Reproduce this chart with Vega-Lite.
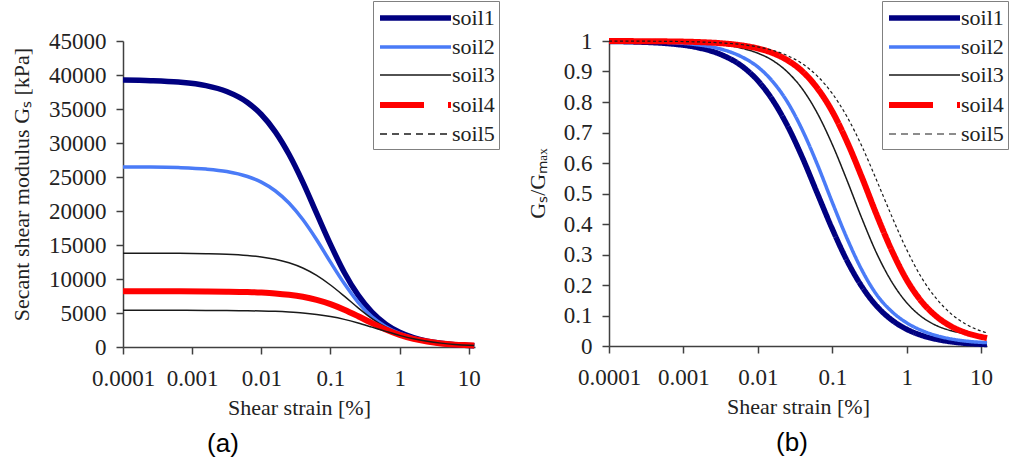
{
 "$schema": "https://vega.github.io/schema/vega-lite/v6.json",
 "background": "white",
 "padding": {"left": 9, "top": 0, "right": 0, "bottom": 0},
 "config": {
  "font": "Liberation Serif",
  "view": {"stroke": null},
  "axis": {"grid": false, "domainColor": "#404040", "tickColor": "#404040", "domainWidth": 1.5, "tickWidth": 1.5, "tickSize": 7,
   "labelFont": "Liberation Serif", "labelFontSize": 23, "labelColor": "#222", "labelOverlap": false, "labelFlush": false,
   "titleFont": "Liberation Serif", "titleFontSize": 22, "titleFontWeight": "normal", "titleColor": "#222"},
  "legend": {"labelFont": "Liberation Serif", "labelFontSize": 22, "labelColor": "#222"}
 },
 "datasets": {"d": [
  {"soil":"soil1","strain":0.0001,"r":0.9987,"G":39250},{"soil":"soil1","strain":0.000251,"r":0.9966,"G":39170},{"soil":"soil1","strain":0.000631,"r":0.9914,"G":38960},{"soil":"soil1","strain":0.001585,"r":0.978,"G":38440},{"soil":"soil1","strain":0.003162,"r":0.956,"G":37570},{"soil":"soil1","strain":0.00631,"r":0.915,"G":35960},{"soil":"soil1","strain":0.01,"r":0.870,"G":34190},{"soil":"soil1","strain":0.01585,"r":0.806,"G":31680},{"soil":"soil1","strain":0.02512,"r":0.721,"G":28340},{"soil":"soil1","strain":0.03981,"r":0.617,"G":24250},{"soil":"soil1","strain":0.0631,"r":0.5,"G":19650},{"soil":"soil1","strain":0.1,"r":0.384,"G":15090},{"soil":"soil1","strain":0.1585,"r":0.279,"G":10960},{"soil":"soil1","strain":0.2512,"r":0.194,"G":7620},{"soil":"soil1","strain":0.3981,"r":0.130,"G":5110},{"soil":"soil1","strain":0.631,"r":0.0853,"G":3350},{"soil":"soil1","strain":1,"r":0.0549,"G":2160},{"soil":"soil1","strain":1.585,"r":0.0349,"G":1370},{"soil":"soil1","strain":2.512,"r":0.022,"G":860},{"soil":"soil1","strain":3.981,"r":0.0138,"G":540},{"soil":"soil1","strain":6.31,"r":0.0086,"G":340},{"soil":"soil1","strain":10,"r":0.0058,"G":230},{"soil":"soil1","strain":12,"r":0.005,"G":200},
  {"soil":"soil2","strain":0.0001,"r":0.9994,"G":26480},{"soil":"soil2","strain":0.000251,"r":0.9983,"G":26460},{"soil":"soil2","strain":0.000631,"r":0.9953,"G":26380},{"soil":"soil2","strain":0.001585,"r":0.9874,"G":26170},{"soil":"soil2","strain":0.003162,"r":0.9738,"G":25810},{"soil":"soil2","strain":0.00631,"r":0.946,"G":25070},{"soil":"soil2","strain":0.01,"r":0.915,"G":24250},{"soil":"soil2","strain":0.01585,"r":0.867,"G":22980},{"soil":"soil2","strain":0.02512,"r":0.799,"G":21170},{"soil":"soil2","strain":0.03981,"r":0.707,"G":18740},{"soil":"soil2","strain":0.0631,"r":0.595,"G":15770},{"soil":"soil2","strain":0.1,"r":0.471,"G":12480},{"soil":"soil2","strain":0.1585,"r":0.352,"G":9330},{"soil":"soil2","strain":0.2512,"r":0.248,"G":6570},{"soil":"soil2","strain":0.3981,"r":0.167,"G":4430},{"soil":"soil2","strain":0.631,"r":0.113,"G":2990},{"soil":"soil2","strain":1,"r":0.076,"G":2010},{"soil":"soil2","strain":1.585,"r":0.051,"G":1350},{"soil":"soil2","strain":2.512,"r":0.034,"G":900},{"soil":"soil2","strain":3.981,"r":0.023,"G":610},{"soil":"soil2","strain":6.31,"r":0.016,"G":420},{"soil":"soil2","strain":10,"r":0.012,"G":320},{"soil":"soil2","strain":12,"r":0.011,"G":290},
  {"soil":"soil3","strain":0.0001,"r":0.9997,"G":13800},{"soil":"soil3","strain":0.000251,"r":0.9993,"G":13790},{"soil":"soil3","strain":0.000631,"r":0.998,"G":13770},{"soil":"soil3","strain":0.001585,"r":0.9945,"G":13720},{"soil":"soil3","strain":0.003162,"r":0.9883,"G":13640},{"soil":"soil3","strain":0.00631,"r":0.9754,"G":13460},{"soil":"soil3","strain":0.01,"r":0.960,"G":13250},{"soil":"soil3","strain":0.01585,"r":0.936,"G":12920},{"soil":"soil3","strain":0.02512,"r":0.898,"G":12390},{"soil":"soil3","strain":0.03981,"r":0.842,"G":11620},{"soil":"soil3","strain":0.0631,"r":0.763,"G":10530},{"soil":"soil3","strain":0.1,"r":0.661,"G":9120},{"soil":"soil3","strain":0.1585,"r":0.542,"G":7480},{"soil":"soil3","strain":0.2512,"r":0.417,"G":5750},{"soil":"soil3","strain":0.3981,"r":0.302,"G":4170},{"soil":"soil3","strain":0.631,"r":0.210,"G":2900},{"soil":"soil3","strain":1,"r":0.142,"G":1960},{"soil":"soil3","strain":1.585,"r":0.096,"G":1320},{"soil":"soil3","strain":2.512,"r":0.067,"G":920},{"soil":"soil3","strain":3.981,"r":0.050,"G":690},{"soil":"soil3","strain":6.31,"r":0.040,"G":550},{"soil":"soil3","strain":10,"r":0.033,"G":460},{"soil":"soil3","strain":12,"r":0.031,"G":430},
  {"soil":"soil4","strain":0.0001,"r":0.9998,"G":8200},{"soil":"soil4","strain":0.000251,"r":0.9995,"G":8200},{"soil":"soil4","strain":0.000631,"r":0.9987,"G":8190},{"soil":"soil4","strain":0.001585,"r":0.9966,"G":8170},{"soil":"soil4","strain":0.003162,"r":0.9928,"G":8140},{"soil":"soil4","strain":0.00631,"r":0.985,"G":8080},{"soil":"soil4","strain":0.01,"r":0.9756,"G":8000},{"soil":"soil4","strain":0.01585,"r":0.9605,"G":7880},{"soil":"soil4","strain":0.02512,"r":0.9367,"G":7680},{"soil":"soil4","strain":0.03981,"r":0.900,"G":7380},{"soil":"soil4","strain":0.0631,"r":0.845,"G":6930},{"soil":"soil4","strain":0.1,"r":0.769,"G":6310},{"soil":"soil4","strain":0.1585,"r":0.669,"G":5490},{"soil":"soil4","strain":0.2512,"r":0.552,"G":4530},{"soil":"soil4","strain":0.3981,"r":0.428,"G":3510},{"soil":"soil4","strain":0.631,"r":0.313,"G":2570},{"soil":"soil4","strain":1,"r":0.217,"G":1780},{"soil":"soil4","strain":1.585,"r":0.146,"G":1200},{"soil":"soil4","strain":2.512,"r":0.097,"G":800},{"soil":"soil4","strain":3.981,"r":0.064,"G":520},{"soil":"soil4","strain":6.31,"r":0.043,"G":350},{"soil":"soil4","strain":10,"r":0.030,"G":250},{"soil":"soil4","strain":12,"r":0.026,"G":210},
  {"soil":"soil5","strain":0.0001,"r":0.9998,"G":5400},{"soil":"soil5","strain":0.000251,"r":0.9995,"G":5400},{"soil":"soil5","strain":0.000631,"r":0.9988,"G":5390},{"soil":"soil5","strain":0.001585,"r":0.997,"G":5380},{"soil":"soil5","strain":0.003162,"r":0.9939,"G":5370},{"soil":"soil5","strain":0.00631,"r":0.9878,"G":5330},{"soil":"soil5","strain":0.01,"r":0.9806,"G":5300},{"soil":"soil5","strain":0.01585,"r":0.9694,"G":5240},{"soil":"soil5","strain":0.02512,"r":0.9518,"G":5140},{"soil":"soil5","strain":0.03981,"r":0.925,"G":5000},{"soil":"soil5","strain":0.0631,"r":0.885,"G":4780},{"soil":"soil5","strain":0.1,"r":0.828,"G":4470},{"soil":"soil5","strain":0.1585,"r":0.751,"G":4060},{"soil":"soil5","strain":0.2512,"r":0.654,"G":3530},{"soil":"soil5","strain":0.3981,"r":0.541,"G":2920},{"soil":"soil5","strain":0.631,"r":0.425,"G":2300},{"soil":"soil5","strain":1,"r":0.316,"G":1710},{"soil":"soil5","strain":1.585,"r":0.224,"G":1210},{"soil":"soil5","strain":2.512,"r":0.155,"G":840},{"soil":"soil5","strain":3.981,"r":0.105,"G":570},{"soil":"soil5","strain":6.31,"r":0.071,"G":380},{"soil":"soil5","strain":10,"r":0.049,"G":260},{"soil":"soil5","strain":12,"r":0.043,"G":230}
 ]},
 "spacing": 26,
 "resolve": {"scale": {"color": "independent", "strokeWidth": "independent", "x": "independent", "y": "independent"}, "legend": {"color": "independent"}},
 "hconcat": [
  {
   "width": 352, "height": 306,
   "data": {"name": "d"},
   "title": {"text": "(a)", "orient": "bottom", "anchor": "middle", "font": "Liberation Sans", "fontSize": 26, "fontWeight": "normal", "color": "#000", "dx": -76, "offset": 13},
   "mark": {"type": "line", "interpolate": "monotone"},
   "encoding": {
    "x": {"field": "strain", "type": "quantitative", "scale": {"type": "log", "domain": [0.0001, 12.3]},
     "axis": {"values": [0.0001, 0.001, 0.01, 0.1, 1, 10], "format": "~g", "title": "Shear strain [%]", "labelPadding": 13, "titlePadding": 7}},
    "y": {"field": "G", "type": "quantitative", "scale": {"domain": [0, 45000], "nice": false, "zero": true},
     "axis": {"values": [0, 5000, 10000, 15000, 20000, 25000, 30000, 35000, 40000, 45000], "format": "d", "title": "Secant shear modulus Gₛ [kPa]", "labelPadding": 10, "titleX": -102, "titleY": 143, "titleBaseline": "middle"}},
    "color": {"field": "soil", "type": "nominal",
     "scale": {"domain": ["soil1", "soil2", "soil3", "soil4", "soil5"], "range": ["#000080", "#4a7bf7", "#1a1a1a", "#ff0000", "#1a1a1a"]},
     "legend": {"orient": "none", "legendX": 250, "legendY": -40, "title": null, "symbolType": "M-1,0H6.1", "symbolSize": 400, "labelOffset": 49, "padding": 4, "rowPadding": 6, "strokeColor": "#808080", "fillColor": "white",
      "encode": {"symbols": {"update": {
       "strokeDash": {"signal": "datum.value === 'soil4' ? [44,24] : (datum.value === 'soil5' ? [7,5] : [1,0])"},
       "strokeWidth": {"signal": "datum.value === 'soil1' ? 5.5 : (datum.value === 'soil2' ? 3.5 : (datum.value === 'soil4' ? 6 : (datum.value === 'soil5' ? 2 : 1.5)))"}}}}}},
    "strokeWidth": {"field": "soil", "type": "nominal", "scale": {"type": "ordinal", "domain": ["soil1", "soil2", "soil3", "soil4", "soil5"], "range": [5.5, 3.5, 1.5, 6, 1.5]}, "legend": null}
   }
  },
  {
   "width": 378, "height": 305,
   "data": {"name": "d"},
   "title": {"text": "(b)", "orient": "bottom", "anchor": "middle", "font": "Liberation Sans", "fontSize": 26, "fontWeight": "normal", "color": "#000", "dx": -6, "offset": 13},
   "mark": {"type": "line", "interpolate": "monotone"},
   "encoding": {
    "x": {"field": "strain", "type": "quantitative", "scale": {"type": "log", "domain": [0.0001, 12]},
     "axis": {"values": [0.0001, 0.001, 0.01, 0.1, 1, 10], "format": "~g", "title": "Shear strain [%]", "labelPadding": 13, "titlePadding": 7}},
    "y": {"field": "r", "type": "quantitative", "scale": {"domain": [0, 1], "nice": false},
     "axis": {"values": [0, 0.1, 0.2, 0.3, 0.4, 0.5, 0.6, 0.7, 0.8, 0.9, 1], "format": "~g", "title": "Gₛ/Gₘₐₓ", "labelPadding": 10, "titleX": -72, "titleY": 142, "titleBaseline": "middle"}},
    "color": {"field": "soil", "type": "nominal",
     "scale": {"domain": ["soil1", "soil2", "soil3", "soil4", "soil5"], "range": ["#000080", "#4a7bf7", "#1a1a1a", "#ff0000", "#1a1a1a"]},
     "legend": {"orient": "none", "legendX": 273, "legendY": -40, "title": null, "symbolType": "M-1,0H6.1", "symbolSize": 400, "labelOffset": 49, "padding": 4, "rowPadding": 6, "strokeColor": "#808080", "fillColor": "white",
      "encode": {"symbols": {"update": {
       "strokeDash": {"signal": "datum.value === 'soil4' ? [44,24] : (datum.value === 'soil5' ? [7,5] : [1,0])"},
       "strokeWidth": {"signal": "datum.value === 'soil1' ? 5.5 : (datum.value === 'soil2' ? 3.5 : (datum.value === 'soil4' ? 6 : (datum.value === 'soil5' ? 2 : 1.5)))"}}}}}},
    "strokeWidth": {"field": "soil", "type": "nominal", "scale": {"type": "ordinal", "domain": ["soil1", "soil2", "soil3", "soil4", "soil5"], "range": [5.5, 3.5, 1.5, 6, 1.2]}, "legend": null},
    "strokeDash": {"condition": {"test": "datum.soil === 'soil5'", "value": [3, 2.5]}, "value": [1, 0]}
   }
  }
 ]
}
